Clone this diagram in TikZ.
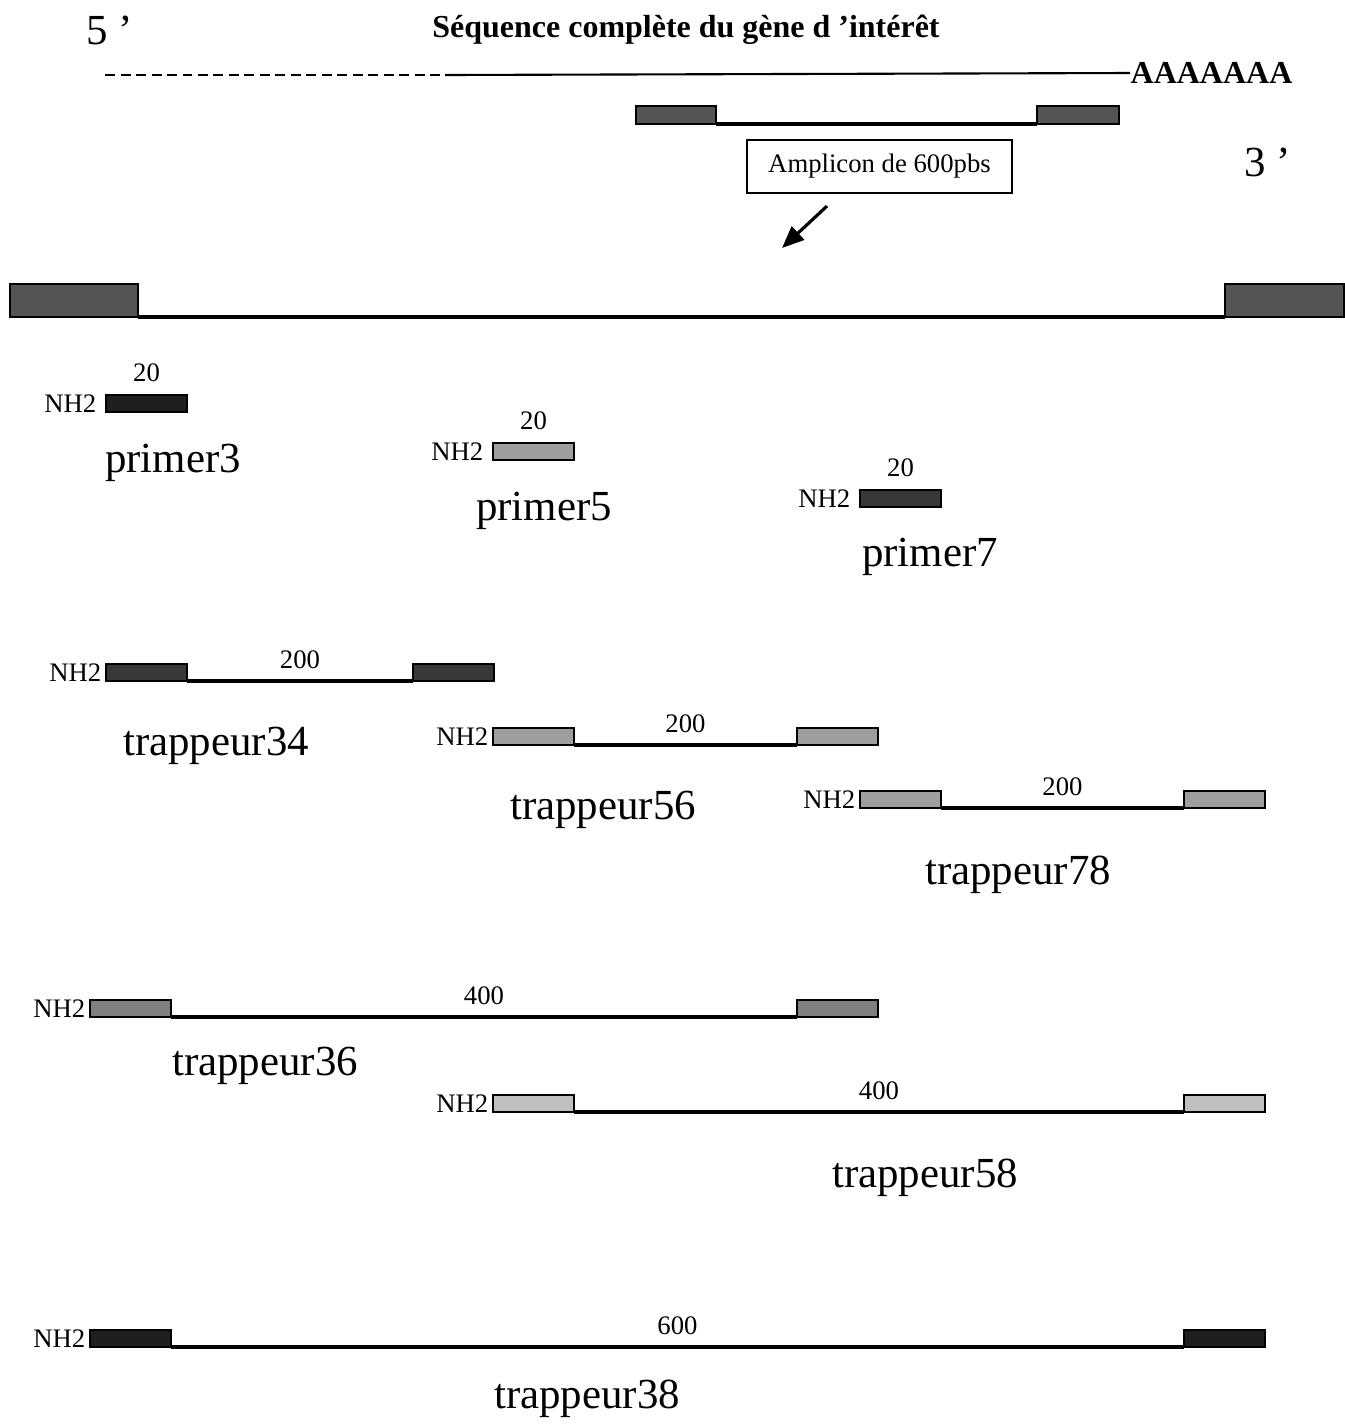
\documentclass[tikz,border=0pt]{standalone}
\usepackage{fontspec}
\setmainfont{Liberation Serif}
\usetikzlibrary{arrows.meta, positioning, calc}
\definecolor{noir}{gray}{0.12}
\definecolor{fonce}{gray}{0.22}
\definecolor{sombre}{gray}{0.33}
\definecolor{moyen}{gray}{0.50}
\definecolor{clair}{gray}{0.62}
\definecolor{pale}{gray}{0.75}

\begin{document}
\begin{tikzpicture}[x=0.1mm, y=-0.1mm,
    bar/.style={draw=black, line width=0.5pt, minimum width=8.1mm, minimum height=1.7mm,
        inner sep=0pt, outer sep=0pt, anchor=north west},
    lien/.style={line width=1.2pt},
    petit/.style={font=\fontsize{7.6}{9}\selectfont, inner sep=0pt},
    gras/.style={font=\fontsize{9.1}{11}\selectfont\bfseries, inner sep=0pt},
    nom/.style={font=\fontsize{12.2}{14}\selectfont, inner sep=0pt}]
    \useasboundingbox (0,0) rectangle (1345,1424);
    % Gene
    \node[nom] (cinq) at (110,30) {5 ’};
    \node[gras] (titre) at (686,30) {Séquence complète du gène d ’intérêt};
    \coordinate (debut) at (105,75);
    \coordinate (milieu) at (445,75);
    \node[gras, anchor=west] (polyA) at (1130,73) {AAAAAAA};
    \draw[line width=0.6pt, dash pattern=on 1mm off 0.55mm] (debut) -- (milieu);
    \draw[line width=0.6pt] (milieu) -- (polyA.west);
    % Amplicon
    \node[bar, fill=sombre, minimum width=8mm, minimum height=1.8mm] (ampg) at (636,106) {};
    \node[bar, fill=sombre, minimum width=8.2mm, minimum height=1.8mm] (ampd) at (1037,106) {};
    \draw[lien] (ampg.south east) -- (ampd.south west);
    \node[nom] (trois) at (1268,162) {3 ’};
    \node[petit, draw, line width=0.6pt, minimum width=26.5mm, minimum height=5.3mm] (amplicon) at (879.5,166.5) {Amplicon de 600pbs};
    \coordinate (fleche) at (782,248);
    \draw[line width=0.9pt, -{Triangle[length=2.2mm, width=1.8mm]}]
        ([xshift=-5.25mm, yshift=-1.2mm]amplicon.south) -- (fleche);
    % Grande sequence
    \node[bar, fill=sombre, minimum width=12.8mm, minimum height=3.3mm] (grg) at (10,284) {};
    \node[bar, fill=sombre, minimum width=11.9mm, minimum height=3.3mm] (grd) at (1225,284) {};
    \draw[lien, line width=1.4pt] (grg.south east) -- (grd.south west);
    % Amorces
    \foreach \n/\x/\y/\c/\xn/\yn in {3/106/395/noir/173/463, 5/493/443/clair/544/511, 7/860/490/fonce/930/557} {
        \node[bar, fill=\c] (p\n) at (\x,\y) {};
        \node[petit, left=0.9mm of p\n] (pnh\n) {NH2};
        \node[petit, anchor=base] (pnb\n) at ($(p\n.north)+(0,-14)$) {20};
        \node[nom] (pnom\n) at (\xn,\yn) {primer\n};
    }
    % Trappeurs
    \foreach \n/\xa/\xb/\y/\len/\c/\xn/\yn in {
        34/106/413/664/200/fonce/216/746,
        56/493/797/728/200/clair/603/810,
        78/860/1184/791/200/clair/1018/875,
        36/90/797/1000/400/moyen/265/1066,
        58/493/1184/1095/400/pale/925/1178,
        38/90/1184/1330/600/noir/587/1399} {
        \node[bar, fill=\c] (ta\n) at (\xa,\y) {};
        \node[bar, fill=\c] (tb\n) at (\xb,\y) {};
        \draw[lien] (ta\n.south east) -- (tb\n.south west);
        \node[petit, left=0.4mm of ta\n] (tnh\n) {NH2};
        \node[petit, anchor=base] (tnb\n) at ($(ta\n.south east)!0.5!(tb\n.south west)+(0,-13)$) {\len};
        \node[nom] (tnom\n) at (\xn,\yn) {trappeur\n};
    }
\end{tikzpicture}
\end{document}
